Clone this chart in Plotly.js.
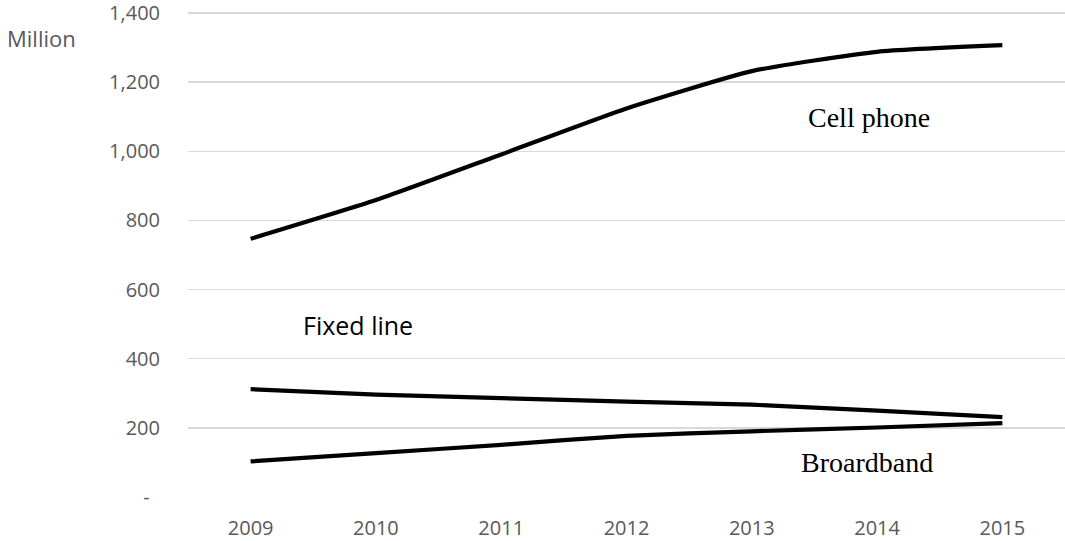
<!DOCTYPE html>
<html>
<head>
<meta charset="utf-8">
<script src="https://cdn.plot.ly/plotly-3.0.1.min.js"></script>
<style>html,body{margin:0;padding:0;background:#fff;}#chart{width:1065px;height:541px;}</style>
</head>
<body>
<div id="chart"></div>
<script>
const years = ['2009', '2010', '2011', '2012', '2013', '2014', '2015'];
const cellPhone = [747, 859, 991, 1124, 1232, 1288, 1307];
const fixedLine = [312, 296, 286, 276, 267, 250, 231];
const broadband = [103, 127, 151, 177, 190, 201, 214];
const yTickVals = [0, 200, 400, 600, 800, 1000, 1200, 1400];
const yTickText = ['-\u00a0\u00a0', '200', '400', '600', '800', '1,000', '1,200', '1,400'];

const lineStyle = {color: '#000000', width: 4.2, shape: 'spline', smoothing: 0.5};
const traces = [
  {x: years, y: cellPhone, name: 'Cell phone', type: 'scatter', mode: 'lines', line: lineStyle},
  {x: years, y: fixedLine, name: 'Fixed line', type: 'scatter', mode: 'lines', line: lineStyle},
  {x: years, y: broadband, name: 'Broardband', type: 'scatter', mode: 'lines', line: lineStyle}
];

const serif = {family: '"Liberation Serif", "Times New Roman", serif', size: 28, color: '#000000'};
const layout = {
  width: 1065, height: 541,
  margin: {l: 188, r: 0, t: 11, b: 44, pad: 0},
  paper_bgcolor: '#ffffff', plot_bgcolor: '#ffffff',
  showlegend: false,
  font: {family: '"Open Sans", sans-serif', size: 20, color: '#595959'},
  xaxis: {
    type: 'category', range: [-0.5, 6.5], showgrid: false, zeroline: false, showline: false,
    ticks: '', ticklabelstandoff: 17, tickfont: {size: 20, color: '#595959'}
  },
  yaxis: {
    range: [0, 1406], tickvals: yTickVals, ticktext: yTickText, showgrid: true,
    gridcolor: '#d9d9d9', gridwidth: 1.5, zeroline: false, showline: false, ticks: '',
    ticklabelstandoff: 27, ticklabeloverflow: 'allow', tickfont: {size: 20, color: '#595959'}
  },
  annotations: [
    {text: 'Million', xref: 'paper', yref: 'paper', x: -0.1676, y: 0.9437, xanchor: 'center', yanchor: 'middle', showarrow: false,
     font: {family: '"Open Sans", sans-serif', size: 22, color: '#595959'}},
    {text: 'Cell phone', xref: 'paper', yref: 'y', x: 0.7765, y: 1099, xanchor: 'center', yanchor: 'middle', showarrow: false, font: serif},
    {text: 'Broardband', xref: 'paper', yref: 'y', x: 0.7748, y: 99, xanchor: 'center', yanchor: 'middle', showarrow: false, font: serif},
    {text: 'Fixed line', xref: 'paper', yref: 'y', x: 0.1933, y: 498, xanchor: 'center', yanchor: 'middle', showarrow: false,
     font: {family: '"Open Sans", sans-serif', size: 25, color: '#000000'}}
  ]
};
Plotly.newPlot('chart', traces, layout, {displayModeBar: false, staticPlot: true});
</script>
</body>
</html>
